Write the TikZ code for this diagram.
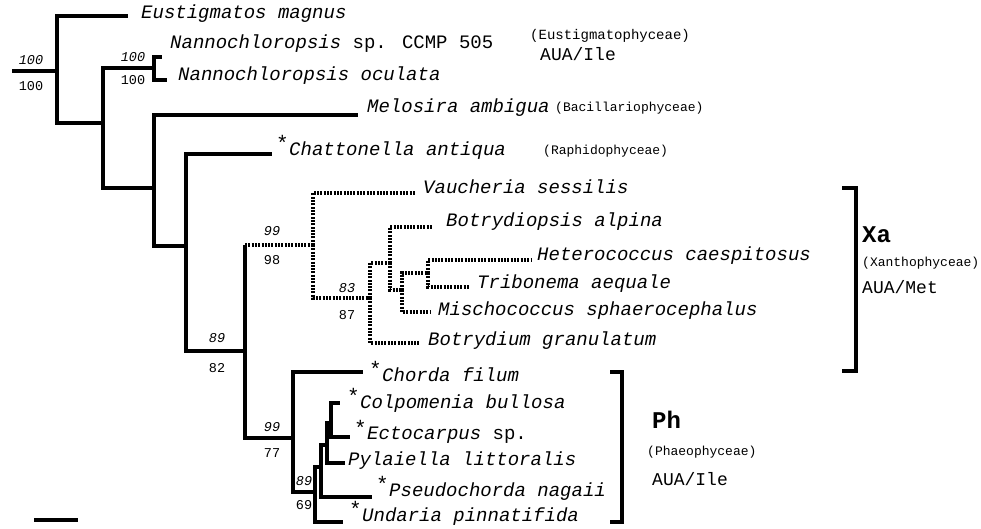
\documentclass[tikz,border=0pt]{standalone}
\usepackage{fontspec}
\setmainfont{Liberation Mono}
\begin{document}
\begin{tikzpicture}[x=1pt,y=-1pt,
  br/.style={line width=3.2pt},
  dbr/.style={line width=3.2pt, dash pattern=on 2pt off 1.3pt},
  sp/.style={font=\fontsize{19}{19}\selectfont\itshape, anchor=mid west, inner sep=0pt},
  star/.style={font=\fontsize{21}{21}\selectfont, anchor=south east, inner sep=0pt},
  bsu/.style={font=\fontsize{13.5}{13.5}\selectfont\itshape, inner sep=0pt},
  bsl/.style={font=\fontsize{13.5}{13.5}\selectfont, inner sep=0pt},
  cls/.style={font=\fontsize{13}{13}\selectfont, anchor=mid west, inner sep=0pt},
  aua/.style={font=\fontsize{18}{18}\selectfont, anchor=mid west, inner sep=0pt},
  grp/.style={font=\fontsize{24}{24}\selectfont\bfseries, anchor=mid west, inner sep=0pt}]
\useasboundingbox (0,0) rectangle (981,529);

% ---------- internal nodes ----------
\coordinate (r0) at (12,71);
\coordinate (r) at (57,71);
\coordinate (n1) at (103,123);
\coordinate (n2) at (154,68);
\coordinate (n3) at (154,188);
\coordinate (n4) at (186,246);
\coordinate (n5) at (245,351);
\coordinate (x1in) at (245,245);
\coordinate (x1) at (313,245);
\coordinate (x2) at (370,298);
\coordinate (x3) at (390,263);
\coordinate (x4) at (402,290);
\coordinate (x5) at (428,273);
\coordinate (p1) at (293,438);
\coordinate (p2) at (315,492);
\coordinate (p3) at (321,467);
\coordinate (p4) at (327,445);
\coordinate (p5) at (331,423);

% ---------- leaf ends ----------
\coordinate (eusE) at (128,16);
\coordinate (nsE) at (162,57);
\coordinate (noE) at (167,80);
\coordinate (meE) at (358,115);
\coordinate (chE) at (272,154);
\coordinate (vaE) at (415,193);
\coordinate (baE) at (433,227);
\coordinate (hcE) at (532,260);
\coordinate (taE) at (470,287);
\coordinate (msE) at (430,312);
\coordinate (bgE) at (420,343);
\coordinate (cfE) at (363,372);
\coordinate (cbE) at (340,403);
\coordinate (esE) at (350,437);
\coordinate (plE) at (345,463);
\coordinate (pnE) at (372,497);
\coordinate (upE) at (343,522);

% ---------- solid branches ----------
\draw[br] (r0) -- (r);
\draw[br] (r) |- (eusE);
\draw[br] (r) |- (n1);
\draw[br] (n1) |- (n2);
\draw[br] (n2) |- (nsE);
\draw[br] (n2) |- (noE);
\draw[br] (n1) |- (n3);
\draw[br] (n3) |- (meE);
\draw[br] (n3) |- (n4);
\draw[br] (n4) |- (chE);
\draw[br] (n4) |- (n5);
\draw[br] (n5) -- (x1in);
\draw[br] (n5) |- (p1);
\draw[br] (p1) |- (cfE);
\draw[br] (p1) |- (p2);
\draw[br] (p2) |- (upE);
\draw[br] (p2) |- (p3);
\draw[br] (p3) |- (pnE);
\draw[br] (p3) |- (p4);
\draw[br] (p4) |- (plE);
\draw[br] (p4) |- (p5);
\draw[br] (p5) |- (cbE);
\draw[br] (p5) |- (esE);

% ---------- dotted branches ----------
\draw[dbr] (x1in) -- (x1);
\draw[dbr] (x1) |- (vaE);
\draw[dbr] (x1) |- (x2);
\draw[dbr] (x2) |- (bgE);
\draw[dbr] (x2) |- (x3);
\draw[dbr] (x3) |- (baE);
\draw[dbr] (x3) |- (x4);
\draw[dbr] (x4) |- (msE);
\draw[dbr] (x4) |- (x5);
\draw[dbr] (x5) |- (hcE);
\draw[dbr] (x5) |- (taE);

% ---------- species ----------
\node[sp] (eus) at (141,16) {Eustigmatos magnus};
\node[sp] (ns) at (170,46) {Nannochloropsis\upshape{} sp. CCMP 505};
\node[sp] (no) at (178,78) {Nannochloropsis oculata};
\node[sp] (me) at (367,110) {Melosira ambigua};
\node[sp] (ch) at (289,153) {Chattonella antiqua};
\node[sp] (va) at (423,191) {Vaucheria sessilis};
\node[sp] (ba) at (446,224) {Botrydiopsis alpina};
\node[sp] (hc) at (537,258) {Heterococcus caespitosus};
\node[sp] (ta) at (477,286) {Tribonema aequale};
\node[sp] (ms) at (438,313) {Mischococcus sphaerocephalus};
\node[sp] (bg) at (428,343) {Botrydium granulatum};
\node[sp] (cf) at (382,379) {Chorda filum};
\node[sp] (cb) at (360,406) {Colpomenia bullosa};
\node[sp] (es) at (367,437) {Ectocarpus\upshape{} sp.};
\node[sp] (pl) at (348,463) {Pylaiella littoralis};
\node[sp] (pn) at (389,494) {Pseudochorda nagaii};
\node[sp] (up) at (362,519) {Undaria pinnatifida};

% ---------- asterisks ----------
\node[star] (chS) at ([xshift=0pt,yshift=-9pt]ch.north west) {*};
\node[star] (cfS) at ([xshift=0pt,yshift=-9pt]cf.north west) {*};
\node[star] (cbS) at ([xshift=0pt,yshift=-9pt]cb.north west) {*};
\node[star] (esS) at ([xshift=0pt,yshift=-9pt]es.north west) {*};
\node[star] (pnS) at ([xshift=0pt,yshift=-9pt]pn.north west) {*};
\node[star] (upS) at ([xshift=0pt,yshift=-9pt]up.north west) {*};

% ---------- class labels ----------
\node[cls, font=\fontsize{14}{14}\selectfont] (eu) at (530,37) {(Eustigmatophyceae)};
\node[aua] (eua) at (540,58) {AUA/Ile};
\node[cls] (ba2) at (555,109) {(Bacillariophyceae)};
\node[cls] (ra) at (543,152) {(Raphidophyceae)};

% ---------- support values ----------
\node[bsu] (s1u) at (31,60) {100};
\node[bsl] (s1l) at (31,86) {100};
\node[bsu] (s2u) at (133,57) {100};
\node[bsl] (s2l) at (133,80) {100};
\node[bsu] (s3u) at (217,338) {89};
\node[bsl] (s3l) at (217,368) {82};
\node[bsu] (s4u) at (272,231) {99};
\node[bsl] (s4l) at (272,260) {98};
\node[bsu] (s5u) at (347,288) {83};
\node[bsl] (s5l) at (347,315) {87};
\node[bsu] (s6u) at (272,427) {99};
\node[bsl] (s6l) at (272,453) {77};
\node[bsu] (s7u) at (304,481) {89};
\node[bsl] (s7l) at (304,505) {69};

% ---------- brackets ----------
\coordinate (xbt) at (842,188);
\coordinate (xbtr) at (856,188);
\coordinate (xbbr) at (856,371);
\coordinate (xbb) at (842,371);
\draw[br] (xbt) -- (xbtr) -- (xbbr) -- (xbb);
\node[grp] (xa) at (862,240) {Xa};
\node[cls] (xac) at (862,264) {(Xanthophyceae)};
\node[aua] (xaa) at (862,291) {AUA/Met};

\coordinate (pbt) at (610,372);
\coordinate (pbtr) at (622,372);
\coordinate (pbbr) at (622,522);
\coordinate (pbb) at (610,522);
\draw[br] (pbt) -- (pbtr) -- (pbbr) -- (pbb);
\node[grp] (ph) at (652,426) {Ph};
\node[cls] (phc) at (647,453) {(Phaeophyceae)};
\node[aua] (pha) at (652,483) {AUA/Ile};

% ---------- scale bar ----------
\coordinate (sb1) at (34,520);
\coordinate (sb2) at (78,520);
\draw[br] (sb1) -- (sb2);
\end{tikzpicture}
\end{document}
